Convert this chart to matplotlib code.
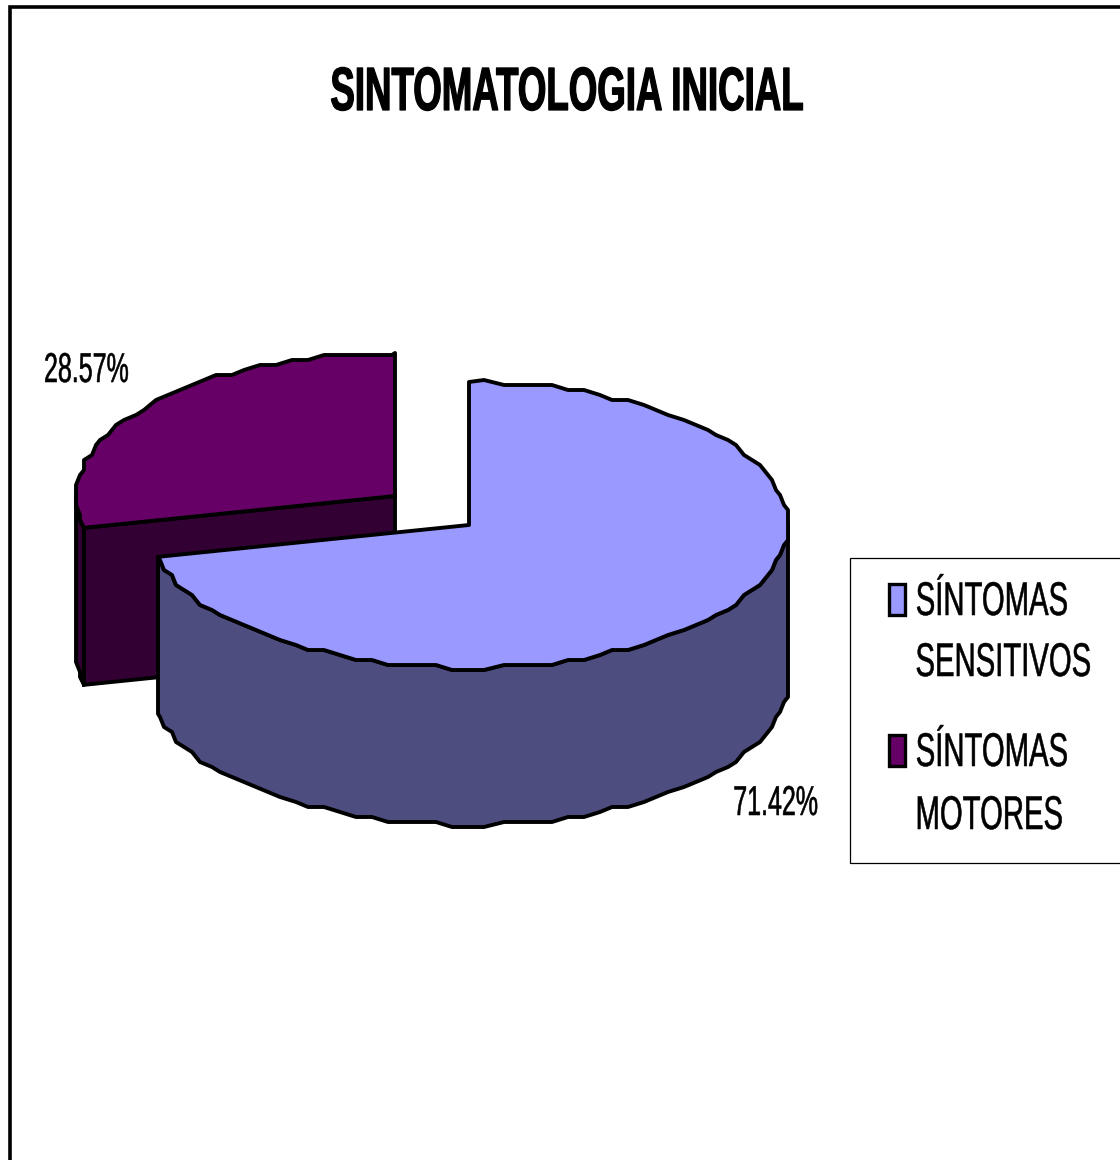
import matplotlib.pyplot as plt
import numpy as np
from matplotlib.patches import Polygon, Rectangle
from matplotlib.patheffects import AbstractPathEffect
from matplotlib.transforms import Affine2D

plt.rcParams["font.family"] = ["Liberation Sans", "DejaVu Sans"]

title = "SINTOMATOLOGIA INICIAL"
categories = [["SÍNTOMAS", "SENSITIVOS"], ["SÍNTOMAS", "MOTORES"]]
values = [71.42, 28.57]
value_labels = ["71.42%", "28.57%"]
top_colors = ["#9999FF", "#660066"]
side_colors = ["#4D4D80", "#330033"]

# pie geometry in pixel coordinates
RX, RY, DEPTH = 319, 143, 157
centers = [(469, 525), (395, 496)]


class Squeeze(AbstractPathEffect):
    # narrows glyph outlines horizontally around x0 and thickens them a little
    def __init__(self, sx, x0, stroke):
        super().__init__()
        self.sx = sx
        self.x0 = x0
        self.stroke = stroke

    def draw_path(self, renderer, gc, tpath, affine, rgbFace=None):
        narrow = Affine2D().translate(-self.x0, 0).scale(self.sx, 1).translate(self.x0, 0)
        gc0 = renderer.new_gc()
        gc0.copy_properties(gc)
        gc0.set_linewidth(self.stroke)
        gc0.set_foreground("black")
        renderer.draw_path(gc0, tpath, affine + narrow, rgbFace)
        gc0.restore()


def narrow_text(ax, x, y, s, sx, stroke=0.4, ha="right", **kwargs):
    # the squeeze keeps the anchored end of the text in place
    t = ax.text(x, y, s, va="baseline", ha=ha, **kwargs)
    x0 = ax.transData.transform((x, y))[0]
    t.set_path_effects([Squeeze(sx, x0, stroke)])
    return t


def rim(center, start, stop):
    # clockwise from 12 o'clock, snapped to a coarse grid for the stepped outline
    angles = np.radians(np.arange(start, stop, 3.0))
    angles = np.append(angles, np.radians(stop))
    x = center[0] + RX * np.sin(angles)
    y = center[1] - RY * np.cos(angles)
    x[1:-1] = np.round(x[1:-1] / 4) * 4
    y[1:-1] = np.round(y[1:-1] / 5) * 5
    return np.column_stack([x, y])


def draw_slice(ax, center, start, stop, top_color, side_color):
    cx, cy = center
    down = np.array([0, DEPTH])
    edge = rim(center, start, stop)
    lw = 2.8

    # outer wall, only the part facing the viewer (90 to 270 degrees)
    lo, hi = max(start, 90), min(stop, 270)
    if lo < hi:
        front = rim(center, lo, hi)
        wall = np.vstack([front, (front + down)[::-1]])
        ax.add_patch(Polygon(wall, closed=True, fc=side_color, ec="black", lw=lw, joinstyle="round"))

    # cut face on the opening side of a back slice
    if start > 180:
        p = edge[0]
        face = [(cx, cy), p, p + down, (cx, cy + DEPTH)]
        ax.add_patch(Polygon(face, closed=True, fc=side_color, ec="black", lw=lw))

    top = np.vstack([[(cx, cy)], edge])
    ax.add_patch(Polygon(top, closed=True, fc=top_color, ec="black", lw=lw, joinstyle="round"))


fig = plt.figure(figsize=(11.2, 11.6), dpi=100)
ax = fig.add_axes([0, 0, 1, 1])
ax.set_xlim(0, 1120)
ax.set_ylim(1160, 0)
ax.axis("off")

# chart border, runs off the right and bottom edges
ax.plot([9.5, 9.5, 1130], [1170, 6.5, 6.5], color="black", lw=2.6, solid_joinstyle="miter")

narrow_text(ax, 804, 110, title, 0.6, stroke=0.9, fontsize=44, fontweight="bold")

angles = np.cumsum([0] + values) / sum(values) * 360
# back slice first so the large one sits in front of it
for i in [1, 0]:
    draw_slice(ax, centers[i], angles[i], angles[i + 1], top_colors[i], side_colors[i])

narrow_text(ax, 44, 382, value_labels[1], 0.6, ha="left", fontsize=30)
narrow_text(ax, 818, 815, value_labels[0], 0.6, fontsize=30)

# legend
ax.add_patch(Rectangle((849.5, 557.5), 290, 305, fc="white", ec="black", lw=0.9))
swatch_y = [584, 735]
line_y = [[615, 676], [766, 829]]
line_end = [[1068, 1091], [1068, 1063]]
for i, lines in enumerate(categories):
    ax.add_patch(Rectangle((889, swatch_y[i]), 16, 31, fc=top_colors[i], ec="black", lw=2.4))
    for txt, y, x in zip(lines, line_y[i], line_end[i]):
        narrow_text(ax, x, y, txt, 0.62, fontsize=34)

fig.savefig("out.png", dpi=100)
